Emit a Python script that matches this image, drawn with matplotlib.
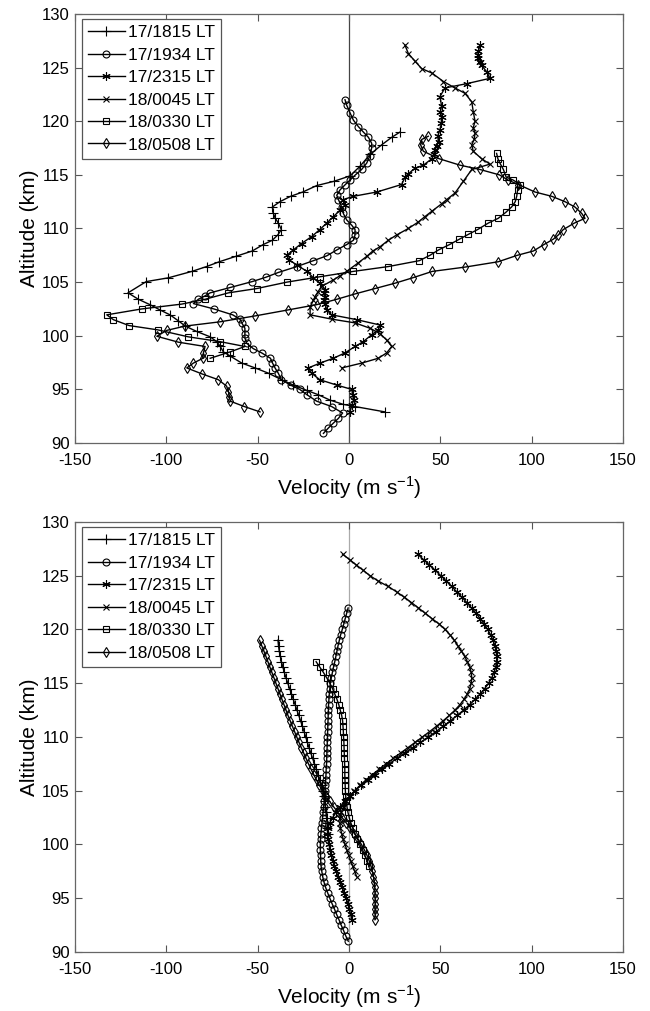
import numpy as np
import matplotlib
matplotlib.use("Agg")
import matplotlib.pyplot as plt

plt.rcParams['font.family'] = ['Liberation Sans', 'DejaVu Sans']
plt.rcParams['axes.unicode_minus'] = False

labels = ['17/1815 LT', '17/1934 LT', '17/2315 LT', '18/0045 LT', '18/0330 LT', '18/0508 LT']
markers = ['+', 'o', (6, 2, 0), 'x', 's', 'd']
msizes = [6.5, 5, 6, 4.5, 4.5, 5.5]

# ---- top panel: measured profiles (velocity m/s, altitude km) ----
v1815 = [19.7, 3.3, -3.1, -10.4, -16.8, -23, -30.5, -36.9, -44, -51.4, -58.7, -65, -68.8, -70.5, -72.4, -76,
         -83.4, -89.6, -93.5, -98, -103.4, -109, -115.3, -121, -111, -98.9, -86, -78, -71, -62, -53, -47, -42,
         -39, -37, -38.7, -40.5, -41.4, -42, -37.8, -32, -25.3, -17.7, -8.2, 0.5, 6, 11.5, 17.9, 23.4, 28]
a1815 = [92.9, 93.4, 93.6, 94.0, 94.5, 94.9, 95.4, 95.9, 96.5, 97.0, 97.45, 98.1, 98.5, 99.0, 99.45, 99.9,
         100.4, 100.9, 101.4, 101.95, 102.4, 102.9, 103.4, 104.0, 105.05, 105.4, 106.0, 106.45, 106.9, 107.4, 107.9, 108.5, 108.9,
         109.4, 109.9, 110.5, 111.0, 111.4, 112.0, 112.5, 113.0, 113.4, 114.0, 114.4, 114.9, 115.8, 116.9, 117.8, 118.5, 119.0]

v1934 = [-14, -11.3, -8.6, -5.8, -3.5, -9.5, -17.7, -23, -27, -32, -37, -38.7, -40.5, -42, -43, -47.8, -52.4,
         -56, -57, -57, -57, -58.7, -59.7, -63.7, -74, -85.2, -82.5, -79, -76, -65, -53, -45.6, -38.7, -28.6,
         -19.5, -12.2, -6.7, -1.3, 2.4, 3.3, 3.3, 1.5, -1.3, -3.1, -4, -5.8, -6.7, -4.9, -2, 0.5, 3.5, 6.9,
         9.7, 11.5, 12.4, 12.4, 10.6, 7.8, 5.1, 2.4, 0.5, -1.3, -2.2]
a1934 = [90.9, 91.4, 91.85, 92.3, 92.8, 93.4, 93.9, 94.5, 95.0, 95.4, 95.9, 96.5, 97.0, 97.5, 97.9, 98.4, 98.8,
         99.3, 99.8, 100.2, 100.7, 101.2, 101.55, 101.95, 102.5, 103.0, 103.4, 103.7, 104.0, 104.5, 105.05, 105.45, 105.9, 106.45,
         107.0, 107.45, 108.0, 108.5, 108.9, 109.4, 109.9, 110.3, 110.8, 111.4, 112.0, 112.7, 113.1, 113.6, 114.1, 114.5, 115.0, 115.5,
         116.1, 116.8, 117.5, 117.95, 118.5, 119.0, 119.5, 120.1, 120.8, 121.5, 122.0]

v2315 = [0.5, 1.5, 2.5, 2, 1.5, -6.7, -16, -20.4, -22.3, -15.9, -8.6, -2.2, 3.3, 7.8, 12.4, 16, 17, 4.2, -9.5,
         -12.2, -13.1, -13.5, -13.1, -13.6, -13.1, -15.9, -19.5, -23, -28.6, -33, -34, -30.5, -26, -20.4, -16, -12.2,
         -8.6, -4.9, -2.2, -3.1, 2.4, 15.2, 28.8, 30.7, 32.5, 36, 40.7, 45.3, 46.5, 47, 48, 49, 48.5, 49.8, 50.5,
         50.7, 50, 50.7, 49.8, 52.5, 64.4, 77.2, 75.4, 72.6, 71.5, 70.8, 70.5, 70.8, 71.7]
a2315 = [92.9, 93.5, 94.0, 94.5, 95.0, 95.4, 95.9, 96.5, 97.0, 97.45, 97.9, 98.4, 99.0, 99.45, 100.1, 100.55, 101.0, 101.5, 101.95,
         102.4, 103.0, 103.3, 103.6, 104.0, 104.3, 104.9, 105.4, 106.0, 106.6, 107.1, 107.5, 108.0, 108.6, 109.25, 109.9, 110.5,
         111.1, 111.7, 112.2, 112.7, 113.0, 113.4, 114.1, 114.8, 115.1, 115.6, 115.9, 116.5, 116.9, 117.3, 117.7, 118.1, 118.6, 119.2, 119.8,
         120.4, 120.9, 121.4, 122.3, 123.1, 123.5, 124.0, 124.6, 125.2, 125.5, 125.9, 126.2, 126.5, 127.1]

v0045 = [-4, 6.9, 16, 20.6, 23.4, 20.6, 17, 11.5, 3.3, -9.5, -21.3, -21.3, -19.5, -18.6, -17, -15, -8.6, -4.9,
         -1.3, 5.1, 9.7, 13, 17, 21.5, 26.1, 32.5, 37.9, 41.5, 45.3, 50.7, 53.5, 58, 62.6, 67.2, 77.2, 72.6, 68,
         67.2, 68.5, 69, 68, 69, 68, 67.2, 63.5, 58, 51.7, 45.3, 39.8, 36.1, 32.5, 30.6]
a0045 = [97.0, 97.45, 97.9, 98.4, 99.0, 99.6, 100.2, 100.7, 101.2, 101.55, 101.95, 102.7, 103.3, 103.65, 104.1, 104.6, 105.2, 105.6,
         106.0, 106.8, 107.4, 107.9, 108.3, 108.9, 109.4, 110.0, 110.6, 111.1, 111.6, 112.3, 112.7, 113.3, 114.4, 115.5, 116.0, 116.5, 117.2,
         117.8, 118.3, 118.9, 119.4, 120.0, 120.9, 121.8, 122.6, 123.1, 123.7, 124.5, 124.9, 125.6, 126.3, 127.1]

v0330 = [-76, -65, -57, -70.6, -88, -104.7, -120.4, -129, -132.6, -113.5, -91.6, -78.8, -66, -50.5, -34, -15.9,
         2.4, 21.5, 38.5, 44.3, 49, 55, 60.4, 65.3, 70.4, 76.2, 81.7, 85.8, 89, 91, 91.8, 92.3, 93.6, 90, 86,
         84.5, 82.6, 81.5, 80.8]
a0330 = [97.9, 98.5, 99.0, 99.45, 99.9, 100.55, 100.95, 101.5, 101.95, 102.5, 102.95, 103.4, 104.0, 104.4, 105.0, 105.5,
         106.0, 106.45, 107.0, 107.5, 108.0, 108.5, 109.0, 109.45, 109.9, 110.5, 110.95, 111.5, 112.0, 112.5, 113.0, 113.6, 114.1, 114.5, 114.8,
         115.5, 116.1, 116.5, 117.0]

v0508 = [-48.7, -57.3, -65, -65.5, -66, -67, -71.5, -80.6, -88.8, -85.2, -80, -79.7, -78.8, -93.4, -105.2, -99.8,
         -89.8, -70.6, -51.4, -33.6, -17.7, -6.7, 3.3, 14.2, 25.2, 34.8, 45.6, 63.5, 81.7, 92.1, 100.9, 106.7, 111.8,
         114.6, 117.3, 123.3, 129.2, 127.4, 123.7, 118.2, 111, 101.8, 92.7, 87.2, 82.3, 71.7, 60.8, 49.4, 40.7, 39.2,
         39.8, 43.4]
a0508 = [92.9, 93.4, 93.9, 94.3, 94.8, 95.3, 95.9, 96.45, 97.0, 97.45, 97.9, 98.4, 99.0, 99.4, 99.95, 100.5,
         100.9, 101.3, 101.85, 102.4, 102.9, 103.4, 103.9, 104.4, 104.9, 105.4, 106.0, 106.4, 106.9, 107.5, 107.9, 108.5, 109.0,
         109.4, 109.9, 110.5, 110.95, 111.4, 112.0, 112.5, 113.0, 113.4, 114.1, 114.5, 115.0, 115.5, 115.9, 116.5, 117.2, 117.8,
         118.3, 118.6]

# ---- bottom panel: fitted profiles, sampled every 0.5 km from the start altitude ----
fit_step = 0.5
f1815_start = 101.0
f1815 = [-11.5, -11.8, -12.0, -12.3, -12.6, -12.9, -13.3, -13.7, -14.2, -15.0, -15.9, -16.9, -17.9, -18.9,
         -19.9, -20.9, -21.9, -22.8, -23.7, -24.6, -25.5, -26.5, -27.5, -28.5, -29.5, -30.5, -31.5, -32.5,
         -33.5, -34.5, -35.4, -36.2, -37.0, -37.6, -38.2, -38.6, -38.9]
f1934_start = 91.0
f1934 = [-0.4, -1.8, -3.0, -4.3, -5.5, -6.8, -8.0, -9.3, -10.5, -11.7, -12.8, -13.7, -14.4, -14.9, -15.3, -15.5,
         -15.6, -15.7, -15.7, -15.6, -15.4, -15.1, -14.8, -14.5, -14.2, -13.9, -13.6, -13.4, -13.2, -13.0, -12.8,
         -12.6, -12.5, -12.3, -12.2, -12.1, -12.0, -11.9, -11.8, -11.7, -11.6, -11.5, -11.4, -11.3, -11.2, -11.0,
         -10.8, -10.5, -10.2, -9.7, -9.1, -8.5, -7.8, -7.2, -6.6, -6.0, -5.3, -4.6, -3.7, -2.9, -2.1, -1.3, -0.5]
f2315_start = 93.0
f2315 = [1.5, 0.9, 0.2, -0.6, -1.5, -2.6, -3.7, -4.8, -5.9, -7.0, -8.0, -8.9, -9.7, -10.4, -11.0, -11.5, -11.8,
         -11.6, -10.6, -9.0, -7.0, -4.8, -2.4, 0.3, 3.3, 6.6, 10.2, 14.0, 17.9, 22.0, 26.2, 30.5, 34.8, 39.1, 43.4,
         47.6, 51.6, 55.5, 59.2, 62.7, 66.0, 69.0, 71.8, 74.3, 76.4, 78.1, 79.4, 80.3, 80.8, 80.9, 80.6, 79.9, 78.8,
         77.5, 75.9, 74.0, 71.9, 69.6, 67.1, 64.5, 61.8, 59.0, 56.2, 53.3, 50.3, 47.2, 44.0, 40.8, 37.6]
f0045_start = 97.0
f0045 = [4.2, 3.1, 2.0, 0.9, -0.2, -1.2, -2.2, -3.2, -4.0, -4.7, -5.0, -4.8, -4.2, -3.0, -1.5, 0.5, 3.0, 6.0, 9.3,
         12.8, 16.5, 20.3, 24.2, 28.2, 32.2, 36.2, 40.2, 44.1, 47.9, 51.5, 54.9, 58.0, 60.7, 63.0, 64.8, 66.1, 66.9,
         67.2, 66.9, 66.1, 64.8, 63.3, 61.5, 59.5, 57.6, 55.3, 52.6, 49.4, 45.5, 41.8, 38.0, 34.2, 30.3, 26.0, 21.5,
         16.0, 11.5, 7.8, 4.0, 0.3, -3.5]
f0330_start = 98.0
f0330 = [11.0, 9.8, 8.6, 7.4, 6.0, 4.6, 3.3, 2.1, 1.0, 0.1, -0.6, -1.1, -1.5, -1.8, -2.0, -2.1, -2.2, -2.3, -2.3,
         -2.4, -2.5, -2.6, -2.7, -2.8, -3.0, -3.1, -3.3, -3.5, -4.0, -4.8, -5.6, -6.6, -7.8, -9.0, -10.5, -12.2,
         -14.0, -16.0, -18.0]
f0508_start = 93.0
f0508 = [14.2, 14.3, 14.3, 14.3, 14.3, 14.2, 14.1, 13.8, 13.4, 12.8, 12.0, 11.0, 9.8, 8.4, 6.8, 5.0, 3.0, 0.8,
         -1.5, -3.8, -6.1, -8.4, -10.6, -12.6, -14.5, -16.2, -17.8, -19.3, -20.8, -22.2, -23.5, -24.8, -26.1,
         -27.4, -28.6, -29.8, -31.0, -32.2, -33.4, -34.5, -35.6, -36.7, -37.8, -38.9, -40.0, -41.1, -42.2, -43.3,
         -44.4, -45.5, -46.6, -47.8, -49.0]

top_series = [(v1815, a1815), (v1934, a1934), (v2315, a2315), (v0045, a0045), (v0330, a0330), (v0508, a0508)]
fits = [(f1815_start, f1815), (f1934_start, f1934), (f2315_start, f2315),
        (f0045_start, f0045), (f0330_start, f0330), (f0508_start, f0508)]

fig = plt.figure(figsize=(6.5, 10.11), dpi=100)
ax1 = fig.add_axes([0.1154, 0.5618, 0.8431, 0.4244])
ax2 = fig.add_axes([0.1154, 0.0584, 0.8431, 0.4253])


def style(ax, zero_color):
    ax.axvline(0, color=zero_color, lw=0.9, zorder=0)
    ax.set_xlim(-150, 150)
    ax.set_ylim(90, 130)
    ax.set_xticks(range(-150, 151, 50))
    ax.set_yticks(range(90, 131, 5))
    ax.tick_params(direction='in', top=True, right=True, length=5, width=0.8,
                   labelsize=12, colors='#555555', labelcolor='black')
    ax.tick_params(axis='x', pad=7)
    ax.tick_params(axis='y', pad=4)
    for s in ax.spines.values():
        s.set_color('#666666')
        s.set_linewidth(0.9)
    ax.set_xlabel(r'Velocity (m s$^{\mathregular{-1}}$)', fontsize=15, labelpad=5)
    ax.set_ylabel('Altitude (km)', fontsize=15, labelpad=2)
    leg = ax.legend(loc='upper left', bbox_to_anchor=(0.013, 0.988), borderaxespad=0,
                    fontsize=12.5, frameon=True, fancybox=False, framealpha=1,
                    handlelength=2.1, handletextpad=0.2, labelspacing=0.42,
                    borderpad=0.35)
    leg.get_frame().set_edgecolor('#555555')
    leg.get_frame().set_linewidth(0.9)


for (v, a), m, ms, lab in zip(top_series, markers, msizes, labels):
    ax1.plot(v, a, color='black', lw=1.0, marker=m, ms=ms, mfc='none',
             mec='black', mew=0.8, label=lab)
style(ax1, '#444444')

for (start, v), m, ms, lab in zip(fits, markers, msizes, labels):
    alt = start + fit_step * np.arange(len(v))
    ax2.plot(v, alt, color='black', lw=1.0, marker=m, ms=ms, mfc='none',
             mec='black', mew=0.8, label=lab)
style(ax2, '#aaaaaa')

fig.savefig('out.png', dpi=100)
